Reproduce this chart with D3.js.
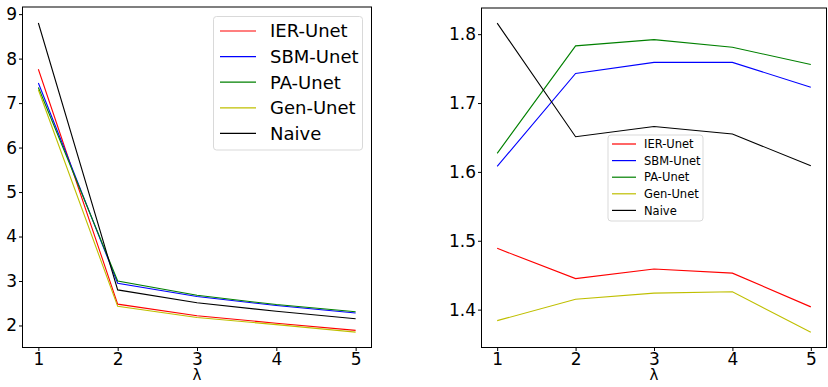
<!DOCTYPE html>
<html lang="en">
<head>
    <meta charset="utf-8" />
    <style>
        body {margin:0; background:#fff;}
        text {font-family: "DejaVu Sans", sans-serif; fill: #000;}
        .line {fill: none; stroke-width: 1.1;}
    </style>
    <script src="https://d3js.org/d3.v7.min.js"></script>
</head>
<body>
    <svg></svg>
</body>
<script>
    var width = 828,
        height = 387;

    var lambdas = [1, 2, 3, 4, 5];
    var names = ["IER-Unet", "SBM-Unet", "PA-Unet", "Gen-Unet", "Naive"];
    var colors = ["#ff0000", "#0000ff", "#008000", "#bfbf00", "#000000"];

    // left panel
    var leftIER   = [7.76, 2.48, 2.22, 2.05, 1.89];
    var leftSBM   = [7.45, 2.95, 2.65, 2.45, 2.28];
    var leftPA    = [7.35, 3.00, 2.68, 2.47, 2.31];
    var leftGen   = [7.30, 2.43, 2.18, 2.02, 1.85];
    var leftNaive = [8.80, 2.80, 2.51, 2.32, 2.15];
    var leftTicks = [2, 3, 4, 5, 6, 7, 8, 9];

    // right panel
    var rightIER   = [1.489, 1.445, 1.459, 1.453, 1.404];
    var rightSBM   = [1.608, 1.743, 1.759, 1.759, 1.723];
    var rightPA    = [1.627, 1.783, 1.792, 1.781, 1.756];
    var rightGen   = [1.384, 1.415, 1.424, 1.426, 1.367];
    var rightNaive = [1.816, 1.651, 1.666, 1.655, 1.609];
    var rightTicks = [1.4, 1.5, 1.6, 1.7, 1.8];

    var svg = d3.select("svg")
        .attr("width", width)
        .attr("height", height)

    function panel(opt) {
        var x = d3.scaleLinear().domain([0.8, 5.2]).range([opt.left, opt.right]);
        var y = d3.scaleLinear().domain(opt.ydom).range([opt.bottom, opt.top]);
        var g = svg.append("g");

        var line = d3.line()
            .x(function(d, i) {return x(lambdas[i])})
            .y(function(d) {return y(d)});

        g.selectAll("path.line")
            .data(opt.series)
          .enter().append("path")
            .attr("class", "line")
            .attr("d", line)
            .style("stroke", function(d, i) {return colors[i]});

        var xAxis = g.append("g")
            .attr("transform", "translate(0," + opt.bottom + ")")
            .call(d3.axisBottom(x).tickValues(lambdas).tickFormat(d3.format("d")).tickSize(3.5).tickPadding(2));
        var yAxis = g.append("g")
            .attr("transform", "translate(" + opt.left + ",0)")
            .call(d3.axisLeft(y).tickValues(opt.ticks).tickFormat(opt.fmt).tickSize(3.5).tickPadding(2));
        [xAxis, yAxis].forEach(function(a) {
            a.select(".domain").remove();
            a.selectAll("text").style("font-size", "17px").attr("font-family", "DejaVu Sans");
            a.selectAll("line").attr("stroke", "#000");
        });

        g.append("rect")
            .attr("x", opt.left).attr("y", opt.top)
            .attr("width", opt.right - opt.left).attr("height", opt.bottom - opt.top)
            .attr("fill", "none").attr("stroke", "#000").attr("stroke-width", 1);

        g.append("text")
            .attr("x", (opt.left + opt.right) / 2).attr("y", 380)
            .attr("text-anchor", "middle")
            .style("font-size", "15px")
            .text("λ");

        // legend
        var L = opt.legend;
        var lg = g.append("g");
        lg.append("rect")
            .attr("x", L.x).attr("y", L.y).attr("width", L.w).attr("height", L.h)
            .attr("rx", 3)
            .attr("fill", "#fff").attr("fill-opacity", 0.8)
            .attr("stroke", "#d9d9d9");
        var rows = lg.selectAll("g.row")
            .data(names)
          .enter().append("g")
            .attr("transform", function(d, i) {return "translate(0," + (L.y0 + i * L.step) + ")"});
        rows.append("line")
            .attr("x1", L.lx1).attr("x2", L.lx2)
            .attr("stroke", function(d, i) {return colors[i]})
            .attr("stroke-width", 1.2);
        rows.append("text")
            .attr("x", L.tx).attr("dy", "0.36em")
            .style("font-size", L.fs + "px")
            .text(function(d) {return d});
    }

    panel({
        left: 22.5, right: 371.5, top: 7, bottom: 347.5,
        ydom: [1.505, 9.16], ticks: leftTicks, fmt: d3.format("d"),
        series: [leftIER, leftSBM, leftPA, leftGen, leftNaive],
        legend: {x: 213.5, y: 16.5, w: 149, h: 133.5, y0: 31, step: 25.6, lx1: 220, lx2: 256, tx: 270, fs: 18}
    });

    panel({
        left: 481.5, right: 826.5, top: 8, bottom: 347.5,
        ydom: [1.345, 1.838], ticks: rightTicks, fmt: d3.format(".1f"),
        series: [rightIER, rightSBM, rightPA, rightGen, rightNaive],
        legend: {x: 608, y: 135, w: 95, h: 86, y0: 144, step: 16.6, lx1: 612, lx2: 636, tx: 644, fs: 11.5}
    });
</script>
</html>
